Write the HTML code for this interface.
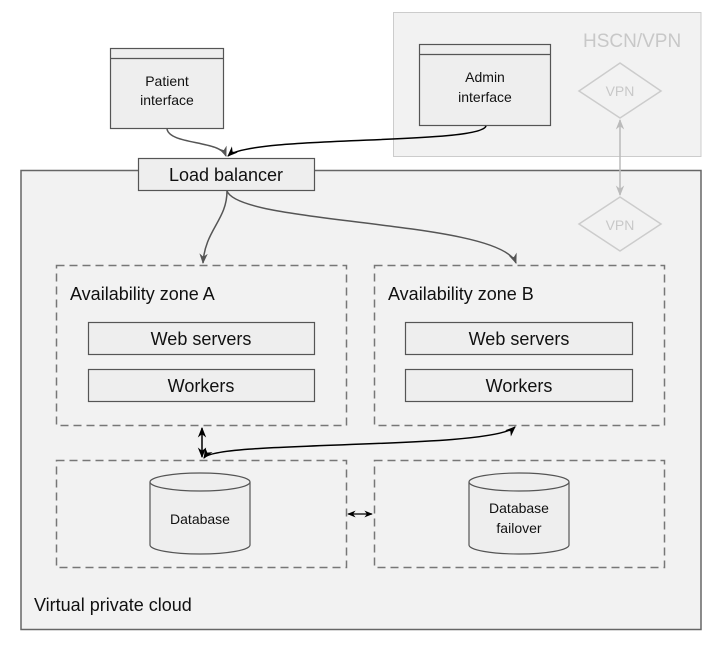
<!DOCTYPE html>
<html><head><meta charset="utf-8"><style>
html,body{margin:0;padding:0;background:#fff}
svg{display:block}
text{font-family:"Liberation Sans",sans-serif}
</style></head><body>
<svg width="714" height="657" viewBox="0 0 714 657" xmlns="http://www.w3.org/2000/svg">
<defs>
<marker id="a" viewBox="0 0 10 10" refX="9" refY="5" markerWidth="7" markerHeight="7" orient="auto-start-reverse"><path d="M0,1 L10,5 L0,9 L3,5 z" fill="#000"/></marker>
<marker id="ag" viewBox="0 0 10 10" refX="9" refY="5" markerWidth="7" markerHeight="7" orient="auto-start-reverse"><path d="M0,1 L10,5 L0,9 L3,5 z" fill="#555"/></marker>
<marker id="al" viewBox="0 0 10 10" refX="9" refY="5" markerWidth="7" markerHeight="7" orient="auto-start-reverse"><path d="M0,1 L10,5 L0,9 L3,5 z" fill="#bbb"/></marker>
</defs>
<!-- HSCN -->
<rect x="393.5" y="12.5" width="307.5" height="144" fill="#f2f2f2" stroke="#ccc"/>
<text x="583" y="47" font-size="19" fill="#c8c8c8">HSCN/VPN</text>
<!-- VPC -->
<rect x="21" y="170.5" width="680" height="459" fill="#f2f2f2" stroke="#666" stroke-width="1.5"/>
<text x="34" y="611" font-size="18" fill="#111">Virtual private cloud</text>
<!-- VPN diamonds -->
<polygon points="620,63 661,91 620,118 579,91" fill="none" stroke="#ccc" stroke-width="1.5"/>
<text x="620" y="96" font-size="14" fill="#c8c8c8" text-anchor="middle">VPN</text>
<polygon points="620,197 661,224 620,251 579,224" fill="none" stroke="#ccc" stroke-width="1.5"/>
<text x="620" y="230" font-size="14" fill="#c8c8c8" text-anchor="middle">VPN</text>
<line x1="620" y1="120" x2="620" y2="195" stroke="#bbb" stroke-width="1.5" marker-start="url(#al)" marker-end="url(#al)"/>
<!-- Patient -->
<rect x="110.5" y="48.5" width="113" height="80" fill="#eee" stroke="#555" stroke-width="1.2"/>
<line x1="110" y1="58.5" x2="224" y2="58.5" stroke="#555" stroke-width="1.2"/>
<text x="167" y="86" font-size="14" text-anchor="middle" fill="#111">Patient</text>
<text x="167" y="105" font-size="14" text-anchor="middle" fill="#111">interface</text>
<!-- Admin -->
<rect x="419.5" y="44.5" width="131" height="81" fill="#eee" stroke="#555" stroke-width="1.2"/>
<line x1="419" y1="54.5" x2="551" y2="54.5" stroke="#555" stroke-width="1.2"/>
<text x="485" y="82" font-size="14" text-anchor="middle" fill="#111">Admin</text>
<text x="485" y="102" font-size="14" text-anchor="middle" fill="#111">interface</text>
<!-- connectors top -->
<path d="M167,129 C170,145 220,140 226,156" fill="none" stroke="#555" stroke-width="1.5" marker-end="url(#ag)"/>
<path d="M486,126 C480,145 250,135 228,156" fill="none" stroke="#000" stroke-width="1.5" marker-end="url(#a)"/>
<!-- LB -->
<rect x="138.5" y="158.5" width="176" height="32" fill="#eee" stroke="#555" stroke-width="1.2"/>
<text x="226" y="181" font-size="18" text-anchor="middle" fill="#111">Load balancer</text>
<path d="M227,191 C227,220 205,230 203,263" fill="none" stroke="#555" stroke-width="1.5" marker-end="url(#ag)"/>
<path d="M227,191 C240,225 500,220 516,263" fill="none" stroke="#555" stroke-width="1.5" marker-end="url(#ag)"/>
<!-- Zones -->
<g fill="none" stroke="#777" stroke-width="1.5" stroke-dasharray="8,5">
<rect x="56.5" y="265.5" width="290" height="160"/>
<rect x="374.5" y="265.5" width="290" height="160"/>
<rect x="56.5" y="460.5" width="290" height="107"/>
<rect x="374.5" y="460.5" width="290" height="107"/>
</g>
<text x="70" y="300" font-size="18" fill="#111">Availability zone A</text>
<text x="388" y="300" font-size="18" fill="#111">Availability zone B</text>
<g fill="#eee" stroke="#555" stroke-width="1.2">
<rect x="88.5" y="322.5" width="226" height="32"/>
<rect x="88.5" y="369.5" width="226" height="32"/>
<rect x="405.5" y="322.5" width="227" height="32"/>
<rect x="405.5" y="369.5" width="227" height="32"/>
</g>
<g font-size="18" text-anchor="middle" fill="#111">
<text x="201" y="345">Web servers</text>
<text x="201" y="392">Workers</text>
<text x="519" y="345">Web servers</text>
<text x="519" y="392">Workers</text>
</g>
<!-- DB connectors -->
<line x1="202" y1="428" x2="202" y2="457" stroke="#000" stroke-width="1.5" marker-start="url(#a)" marker-end="url(#a)"/>
<path d="M204,458 C215,440 490,450 515,427" fill="none" stroke="#000" stroke-width="1.5" marker-start="url(#a)" marker-end="url(#a)"/>
<line x1="348" y1="514" x2="372" y2="514" stroke="#000" stroke-width="1.2" marker-start="url(#a)" marker-end="url(#a)"/>
<!-- cylinders -->
<g fill="#eee" stroke="#555" stroke-width="1.2">
<path d="M150,482 L150,545 A50,9 0 0 0 250,545 L250,482"/>
<ellipse cx="200" cy="482" rx="50" ry="9"/>
<path d="M469,482 L469,545 A50,9 0 0 0 569,545 L569,482"/>
<ellipse cx="519" cy="482" rx="50" ry="9"/>
</g>
<g font-size="14" text-anchor="middle" fill="#111">
<text x="200" y="524">Database</text>
<text x="519" y="513">Database</text>
<text x="519" y="533">failover</text>
</g>
</svg>
</body></html>
